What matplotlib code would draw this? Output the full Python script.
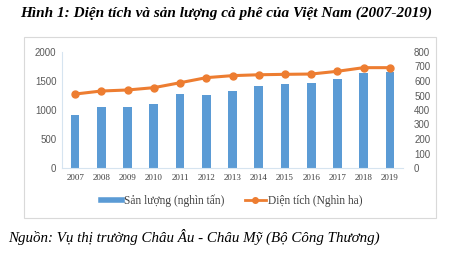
import matplotlib.pyplot as plt
from matplotlib.patches import Rectangle
from matplotlib.lines import Line2D

years = ['2007', '2008', '2009', '2010', '2011', '2012', '2013',
         '2014', '2015', '2016', '2017', '2018', '2019']
san_luong = [910, 1052, 1050, 1098, 1281, 1258, 1327, 1414, 1453, 1471, 1529, 1632, 1660]
dien_tich = [510, 531, 538, 554, 588, 623, 637, 643, 646, 648, 667, 692, 692]

bar_color = '#5B9BD5'
line_color = '#ED7D31'
serif = ['Liberation Serif', 'DejaVu Serif']
sans = ['Liberation Sans', 'DejaVu Sans']

fig = plt.figure(figsize=(4.5, 2.57), dpi=100)

# khung bao quanh biểu đồ
fig.patches.append(Rectangle((24 / 450, 1 - 218 / 257), 412 / 450, 181 / 257,
                             transform=fig.transFigure, fill=False,
                             edgecolor='#D9D9D9', linewidth=0.8))

ax = fig.add_axes([62 / 450, 1 - 168 / 257, 341 / 450, 116 / 257])
x = range(len(years))
ax.bar(x, san_luong, width=0.33, color=bar_color, zorder=2)
ax.set_ylim(0, 2000)
ax.set_yticks(range(0, 2001, 500))
ax.set_xlim(-0.5, len(years) - 0.5)
ax.set_xticks(list(x))
ax.set_xticklabels(years, fontfamily=serif, fontsize=6.5, color='#404040')
for lb in ax.get_yticklabels():
    lb.set_fontfamily(sans)
    lb.set_fontsize(7)
    lb.set_color('#595959')
ax.tick_params(length=0, pad=4)
for s in ['top', 'right']:
    ax.spines[s].set_visible(False)
ax.spines['left'].set_color('#D6E4F0')
ax.spines['bottom'].set_color('#D6E4F0')

ax2 = ax.twinx()
ax2.plot(list(x), dien_tich, color=line_color, linewidth=2.2, marker='o',
         markersize=5, zorder=3)
ax2.set_ylim(0, 800)
ax2.set_yticks(range(0, 801, 100))
for lb in ax2.get_yticklabels():
    lb.set_fontfamily(sans)
    lb.set_fontsize(7)
    lb.set_color('#595959')
ax2.tick_params(length=0, pad=8)
for s in ['top', 'right', 'left', 'bottom']:
    ax2.spines[s].set_visible(False)

handles = [Line2D([0], [0], color=bar_color, linewidth=4),
           Line2D([0], [0], color=line_color, linewidth=2, marker='o', markersize=4)]
fig.legend(handles, ['Sản lượng (nghìn tấn)', 'Diện tích (Nghìn ha)'],
           loc='center', bbox_to_anchor=(0.515, 1 - 201 / 257), ncol=2, frameon=False,
           prop={'family': serif, 'size': 8.3}, labelcolor='#404040',
           handlelength=1.8, columnspacing=1.8, handletextpad=0.2)

fig.text(20 / 450, 1 - 13 / 257, 'Hình 1: Diện tích và sản lượng cà phê của Việt Nam (2007-2019)',
         ha='left', va='center', fontfamily=serif, fontsize=11,
         fontweight='bold', fontstyle='italic')
fig.text(8 / 450, 1 - 237 / 257, 'Nguồn: Vụ thị trường Châu Âu - Châu Mỹ (Bộ Công Thương)',
         ha='left', va='center', fontfamily=serif, fontsize=10.8, fontstyle='italic')

plt.savefig('out.png', dpi=100)
